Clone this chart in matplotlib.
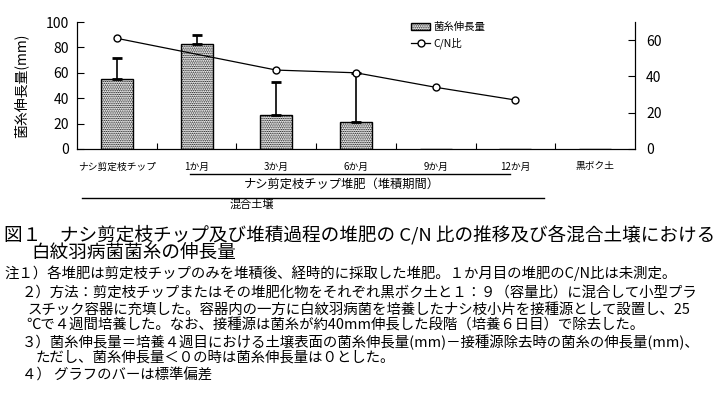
#!/usr/bin/env python3

import numpy as np
import matplotlib
matplotlib.use("Agg")
import matplotlib.pyplot as plt
from matplotlib.lines import Line2D


plt.rcParams['font.family'] = ['Noto Sans CJK JP', 'DejaVu Sans']
plt.rcParams['hatch.linewidth'] = 0.7

# data
categories = ['ナシ剪定枝チップ', '1か月', '3か月', '6か月', '9か月', '12か月', '黒ボク土']
growth = [55, 83, 27, 21, 0, 0, 0]        # 菌糸伸長量 (mm)
growth_sd = [17, 7, 26, 39, 0, 0, 0]
cn_idx = [0, 2, 3, 4, 5]                   # 1か月 was not measured
cn_ratio = [61, 43.5, 42, 34, 27]

W, H = 724, 396


def fx(px):
	return px / W


def fy(py):
	return 1 - py / H


def main():
	fig = plt.figure(figsize=(7.24, 3.96), dpi=100)
	ax = fig.add_axes([fx(77), fy(149), fx(635) - fx(77), fy(22) - fy(149)])
	ax2 = ax.twinx()

	x = np.arange(len(categories))
	ax.bar(x, growth, width=0.4, color='white', edgecolor='black',
		hatch='.........', linewidth=1.0, label='菌糸伸長量', zorder=2)
	# only the upper half of the error bar
	has = [i for i in x if growth[i] > 0]
	ax.errorbar([x[i] for i in has], [growth[i] for i in has],
		yerr=[[0] * len(has), [growth_sd[i] for i in has]],
		fmt='none', ecolor='black', elinewidth=1.2, capsize=3.5, capthick=2, zorder=3)

	ax.set_xlim(-0.5, len(categories) - 0.5)
	ax.set_ylim(0, 100)
	ax.set_yticks([0, 20, 40, 60, 80, 100])
	ax.set_xticks(x[:-1] + 0.5)
	ax.set_xticklabels([])
	ax.set_xticks(x, minor=True)
	ax.set_xticklabels(categories, minor=True, fontsize=7)
	ax.tick_params(axis='x', which='major', direction='in', length=4)
	ax.tick_params(axis='x', which='minor', length=0, pad=9)
	ax.tick_params(axis='y', direction='in', length=5, labelsize=10, pad=6)
	ax.set_ylabel('菌糸伸長量(mm)', fontsize=10, labelpad=12)
	ax.spines['top'].set_visible(False)

	ax2.plot(cn_idx, cn_ratio, color='black', linewidth=0.9, marker='o',
		markersize=5, markerfacecolor='white', markeredgecolor='black',
		label='C/N比', zorder=4)
	ax2.set_ylim(0, 70)
	ax2.set_yticks([0, 20, 40, 60])
	ax2.tick_params(axis='y', direction='in', length=5, labelsize=10, pad=8)
	ax2.spines['top'].set_visible(False)
	# line on top of the bars
	ax.set_zorder(1)
	ax2.set_zorder(2)
	ax2.patch.set_visible(False)

	h1, l1 = ax.get_legend_handles_labels()
	h2, l2 = ax2.get_legend_handles_labels()
	fig.legend(h1 + h2, l1 + l2, loc='upper left',
		bbox_to_anchor=(fx(406), fy(17)), frameon=False, fontsize=7.5,
		handlelength=1.8, handleheight=0.6, handletextpad=0.3,
		labelspacing=0.5, borderpad=0)

	# brackets under the axis
	fig.add_artist(Line2D([fx(190), fx(510)], [fy(174), fy(174)], color='black', linewidth=1))
	fig.text(fx(342), fy(184), 'ナシ剪定枝チップ堆肥（堆積期間）', fontsize=8.8,
		ha='center', va='center')
	fig.add_artist(Line2D([fx(82), fx(544)], [fy(198), fy(198)], color='black', linewidth=1))
	fig.text(fx(252), fy(205), '混合土壌', fontsize=8, ha='center', va='center')

	# caption
	fig.text(fx(4), fy(235), '図１　ナシ剪定枝チップ及び堆積過程の堆肥の C/N 比の推移及び各混合土壌における',
		fontsize=13.4, ha='left', va='center')
	fig.text(fx(31), fy(253), '白紋羽病菌菌糸の伸長量', fontsize=13.4, ha='left', va='center')

	notes = [
		(4, 273, '注１）各堆肥は剪定枝チップのみを堆積後、経時的に採取した堆肥。１か月目の堆肥のC/N比は未測定。'),
		(22, 293, '２）方法：剪定枝チップまたはその堆肥化物をそれぞれ黒ボク土と１：９（容量比）に混合して小型プラ'),
		(28, 310, 'スチック容器に充填した。容器内の一方に白紋羽病菌を培養したナシ枝小片を接種源として設置し、25'),
		(26, 326, '℃で４週間培養した。なお、接種源は菌糸が約40mm伸長した段階（培養６日目）で除去した。'),
		(22, 342, '３）菌糸伸長量＝培養４週目における土壌表面の菌糸伸長量(mm)－接種源除去時の菌糸の伸長量(mm)、'),
		(36, 358, 'ただし、菌糸伸長量＜０の時は菌糸伸長量は０とした。'),
		(22, 376, '４） グラフのバーは標準偏差'),
	]
	for px, py, s in notes:
		fig.text(fx(px), fy(py), s, fontsize=10.4, ha='left', va='center')

	fig.savefig('out.png', dpi=100)


if __name__ == "__main__":
	main()
